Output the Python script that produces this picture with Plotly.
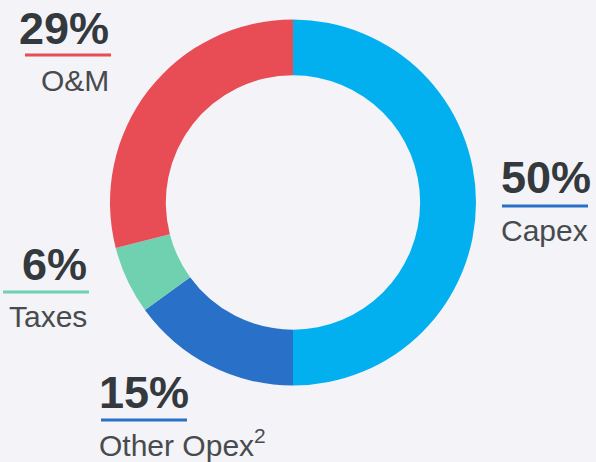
import plotly.graph_objects as go

labels = ["Capex", "Other Opex", "Taxes", "O&M"]
values = [50, 15, 6, 29]
pct_text = ["50%", "15%", "6%", "29%"]
label_text = ["Capex", "Other Opex<sup>2</sup>", "Taxes", "O&M"]
colors = ["#03b0ef", "#2870c8", "#6fd1b0", "#e84c55"]
underline_colors = ["#2870c8", "#2870c8", "#6fd1b0", "#e84c55"]

W, H = 596, 462
BG = "#f3f3f8"

def px(x):
    return x / W

def py(y):
    return 1 - y / H

fig = go.Figure()
fig.add_trace(go.Pie(
    labels=labels,
    values=values,
    hole=0.695,
    sort=False,
    direction="clockwise",
    rotation=0,
    marker=dict(colors=colors, line=dict(width=0)),
    textinfo="none",
    hoverinfo="skip",
    showlegend=False,
    domain=dict(x=[px(110), px(476)], y=[py(385.5), py(19.5)]),
))

# label layout: (anchor x px, align, pct center y, underline y, label center y, underline x0)
layout_spec = [
    (499, "left", 177.5, 206, 230.5, 502),   # Capex
    (97, "left", 392.5, 420, 443, 101),      # Other Opex
    (89, "right", 264.5, 292, 316, 3),       # Taxes
    (111, "right", 28.5, 55, 80, 25),        # O&M
]

annotations = []
shapes = []
for i, (ax, al, ypct, yline, ylab, lx0) in enumerate(layout_spec):
    annotations.append(dict(
        x=px(ax), y=py(ypct), xref="paper", yref="paper",
        text=f"<b>{pct_text[i]}</b>", showarrow=False,
        xanchor=al, yanchor="middle",
        font=dict(family="Liberation Sans, Arial, sans-serif", size=45, color="#33393c"),
    ))
    annotations.append(dict(
        x=px(ax), y=py(ylab), xref="paper", yref="paper",
        text=label_text[i], showarrow=False,
        xanchor=al, yanchor="middle",
        font=dict(family="Liberation Sans, Arial, sans-serif", size=30, color="#484b4d"),
    ))
    shapes.append(dict(
        type="line", xref="paper", yref="paper",
        x0=px(lx0), x1=px(lx0 + 86), y0=py(yline), y1=py(yline),
        line=dict(color=underline_colors[i], width=3),
    ))

fig.update_layout(
    width=W, height=H,
    margin=dict(l=0, r=0, t=0, b=0),
    paper_bgcolor=BG, plot_bgcolor=BG,
    annotations=annotations,
    shapes=shapes,
)

fig.write_html(
    "out.html",
    config={"displayModeBar": False},
    post_script="document.body.style.margin='0';document.body.style.padding='0';"
                "document.documentElement.style.overflow='hidden';"
                "document.body.style.background='" + BG + "';",
)
